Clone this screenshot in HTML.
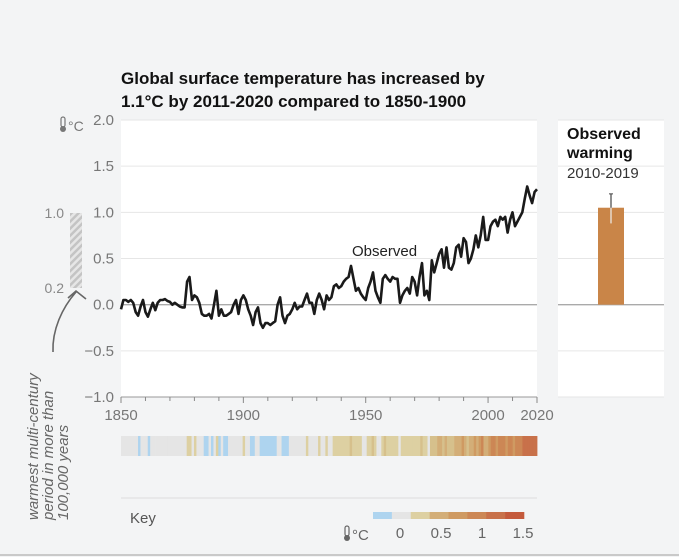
<!DOCTYPE html>
<html><head><meta charset="utf-8"><style>
html,body{margin:0;padding:0;}
body{width:679px;height:557px;background:#f3f4f5;font-family:"Liberation Sans",sans-serif;position:relative;overflow:hidden;}
</style></head><body>
<svg id="chart" width="679" height="557" xmlns="http://www.w3.org/2000/svg" style="position:absolute;left:0;top:0">
<rect x="0" y="0" width="679" height="557" fill="#f3f4f5"/>
<line x1="0" y1="555" x2="679" y2="555" stroke="#c9c9c9" stroke-width="2"/>
<text x="121" y="84" font-size="17" font-weight="bold" fill="#111"><tspan x="121">Global surface temperature has increased by</tspan><tspan x="121" dy="23">1.1°C by 2011-2020 compared to 1850-1900</tspan></text>
<rect x="121" y="120" width="416" height="277" fill="#fff"/>
<rect x="558" y="120" width="106" height="277" fill="#fff"/>
<g id="grid"></g>
<g id="yticks" font-size="15" fill="#777" text-anchor="end"></g>
<g id="xticks" font-size="15" fill="#777" text-anchor="middle"></g>
<g>
<rect x="61" y="117" width="4" height="10" rx="2" fill="none" stroke="#777" stroke-width="1.2"/><circle cx="63" cy="129" r="3" fill="#777"/>
<text x="68" y="131" font-size="14" fill="#777">°C</text></g>
<path id="line" fill="none" stroke="#1a1a1a" stroke-width="2.6" stroke-linejoin="round"/>
<text x="352" y="256" font-size="15" fill="#222">Observed</text>
<text x="567" y="139" font-size="16" font-weight="bold" fill="#111"><tspan x="567">Observed</tspan><tspan x="567" dy="19">warming</tspan></text>
<text x="567" y="178" font-size="15" fill="#333">2010-2019</text>
<g id="bar"></g>
<defs><pattern id="hatch" width="5" height="5" patternUnits="userSpaceOnUse" patternTransform="rotate(45)"><rect width="5" height="5" fill="#e6e6e6"/><rect width="2.5" height="5" fill="#c4c4c4"/></pattern></defs>
<rect x="70" y="213" width="12" height="75" fill="url(#hatch)"/>
<text x="64" y="218" font-size="14" fill="#888" text-anchor="end">1.0</text>
<text x="64" y="293" font-size="14" fill="#888" text-anchor="end">0.2</text>
<path d="M53 352 C52 330 62 308 76 292 M68 298 L76 291 L86 299" fill="none" stroke="#666" stroke-width="1.6"/>
<text transform="translate(38,520) rotate(-90)" font-size="15" font-style="italic" fill="#666"><tspan x="0" y="0">warmest multi-century</tspan><tspan x="0" dy="15">period in more than</tspan><tspan x="0" dy="15">100,000 years</tspan></text>
<g id="stripes"></g>
<line x1="121" y1="498" x2="537" y2="498" stroke="#ddd"/>
<text x="130" y="523" font-size="15" fill="#555">Key</text>
<g id="key"></g>
<g>
<rect x="345" y="526" width="4" height="10" rx="2" fill="none" stroke="#666" stroke-width="1.2"/><circle cx="347" cy="538" r="3" fill="#666"/>
<text x="352" y="540" font-size="15" fill="#666">°C</text></g>
</svg>
<script>
const startYear=1850;
const temps=[-0.05,0.05,0.05,0.03,0.05,0.02,-0.08,-0.12,-0.02,0.05,
-0.08,-0.13,-0.05,0.02,-0.06,0.02,0.05,0.05,0.06,0.04,
0.03,0.0,0.02,0.0,-0.02,-0.03,-0.03,0.25,0.3,0.05,
0.1,0.08,0.02,-0.1,-0.12,-0.12,-0.1,-0.15,0.0,0.15,
-0.12,-0.05,-0.12,-0.12,-0.1,-0.08,0.0,0.05,-0.1,0.05,
0.1,0.05,-0.05,-0.12,-0.22,-0.08,-0.03,-0.2,-0.25,-0.2,
-0.2,-0.22,-0.2,-0.18,0.0,0.08,-0.12,-0.2,-0.12,-0.1,
-0.05,0.02,-0.05,-0.02,-0.02,0.05,0.12,0.02,0.02,-0.1,
0.05,0.12,0.05,-0.05,0.1,0.05,0.08,0.2,0.22,0.18,
0.2,0.25,0.28,0.3,0.42,0.28,0.15,0.18,0.12,0.08,
0.05,0.18,0.25,0.35,0.15,0.08,0.02,0.28,0.32,0.28,
0.25,0.3,0.28,0.28,0.02,0.1,0.15,0.18,0.12,0.3,
0.25,0.1,0.3,0.45,0.1,0.15,0.05,0.48,0.35,0.45,
0.55,0.6,0.4,0.62,0.4,0.38,0.45,0.62,0.65,0.52,
0.72,0.68,0.45,0.5,0.6,0.75,0.62,0.75,0.95,0.7,
0.7,0.85,0.9,0.92,0.85,0.95,0.92,0.95,0.78,0.92,
1.0,0.85,0.9,0.95,1.0,1.15,1.28,1.18,1.1,1.22,
1.25];
const yTicks=[2.0,1.5,1.0,0.5,0.0,-0.5,-1.0];
const xTickLabels=[1850,1900,1950,2000,2020];
const barValue=[1.05];
const barError=[0.88,1.2];
const keyValues=[-0.2,0,0.25,0.5,0.75,1,1.25,1.5];
const keyLabels=[0,0.5,1,1.5];
const NS="http://www.w3.org/2000/svg";
const x=yr=>121+(yr-1850)*(416/170);
const y=v=>120+(2-v)*(277/3);
function col(v){
 if(v<-0.1)return"#aed4ef";
 if(v<0.1)return"#e5e5e5";
 const s=["#ddd0a2","#d6c08c","#d3ae78","#cf9a62","#cc8755","#c8714a","#c45a3c"];
 return s[Math.min(6,Math.floor((v-0.1)/0.2))];
}
function mk(t,a,p){const e=document.createElementNS(NS,t);for(const k in a)e.setAttribute(k,a[k]);(p||document.getElementById('chart')).appendChild(e);return e;}
const grid=document.getElementById('grid');
yTicks.forEach(v=>{
 const g1=mk('line',{x1:121,x2:537,y1:y(v),y2:y(v),stroke:v===0?'#aaa':'#e6e6e6','stroke-width':v===0?1.3:1},grid);
 
 
 mk('line',{x1:558,x2:664,y1:y(v),y2:y(v),stroke:v===0?'#aaa':'#e6e6e6','stroke-width':v===0?1.3:1},grid);
 const t=mk('text',{x:114,y:y(v)+5},document.getElementById('yticks'));
 t.textContent=(v<0?'−':'')+Math.abs(v).toFixed(1);
 
 
});
mk('line',{x1:121,x2:537,y1:397,y2:397,stroke:'#999'},grid);
for(let yr=1850;yr<=2020;yr+=10){mk('line',{x1:x(yr),x2:x(yr),y1:397,y2:yr%50===0||yr===2020?403:401,stroke:'#888'},grid);}
xTickLabels.forEach(yr=>{const t=mk('text',{x:x(yr),y:420},document.getElementById('xticks'));t.textContent=yr;
 
 });
document.getElementById('line').setAttribute('d',temps.map((v,i)=>(i?'L':'M')+x(startYear+i).toFixed(1)+' '+y(v).toFixed(1)).join(''));
const bg=document.getElementById('bar');
const br=mk('rect',{x:598,y:y(barValue[0]),width:26,height:y(0)-y(barValue[0]),fill:'#c98548'},bg);


mk('line',{x1:611,x2:611,y1:y(barError[1]),y2:y(barError[0]),stroke:'#eee','stroke-width':1.2},bg);
mk('line',{x1:611,x2:611,y1:y(barError[1]),y2:y(barValue[0]),stroke:'#444','stroke-width':1.2},bg);
mk('line',{x1:609,x2:613,y1:y(barError[1]),y2:y(barError[1]),stroke:'#444'},bg);
const sg=document.getElementById('stripes');const w=416/temps.length;
temps.forEach((v,i)=>{const r=mk('rect',{x:121+i*w,y:436,width:w+0.4,height:20,fill:col(v)},sg);
 
 });
const kg=document.getElementById('key');const kw=151/keyValues.length;
keyValues.forEach((v,i)=>{const r=mk('rect',{x:373+i*kw,y:512,width:kw+0.3,height:7,fill:col(v+0.05)},kg);
 
 });
keyLabels.forEach(v=>{const t=mk('text',{x:400+v*82,y:538,'font-size':15,fill:'#666','text-anchor':'middle'},kg);t.textContent=v;
 
 });
</script>
</body></html>
